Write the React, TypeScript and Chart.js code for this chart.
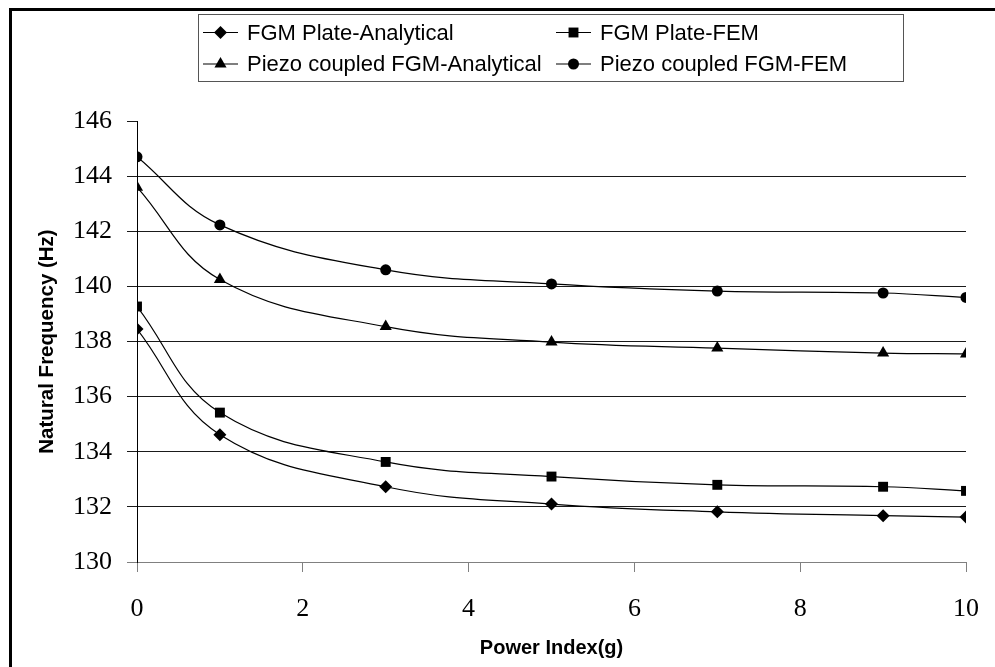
import React, { useEffect, useRef } from "react";
import { Chart, registerables } from "chart.js";

Chart.register(...registerables);

// ---- data ----
const powerIndex = [0, 1, 3, 5, 7, 9, 10];
const fgmPlateAnalytical = [138.45, 134.62, 132.73, 132.1, 131.82, 131.68, 131.63];
const fgmPlateFEM = [139.27, 135.42, 133.63, 133.1, 132.8, 132.73, 132.58];
const piezoAnalytical = [143.6, 140.25, 138.54, 137.98, 137.76, 137.58, 137.55];
const piezoFEM = [144.7, 142.23, 140.6, 140.09, 139.83, 139.76, 139.6];

const seriesNames = [
  "FGM Plate-Analytical",
  "FGM Plate-FEM",
  "Piezo coupled FGM-Analytical",
  "Piezo coupled FGM-FEM",
];
const seriesValues = [fgmPlateAnalytical, fgmPlateFEM, piezoAnalytical, piezoFEM];
const seriesMarkers = ["rectRot", "rect", "triangle", "circle"];
const seriesMarkerRadius = [6.5, 7, 7, 5.5];

const yMin = 130;
const yMax = 146;
const yStep = 2;
const xMin = 0;
const xMax = 10;
const xStep = 2;

const xTitle = "Power Index(g)";
const yTitle = "Natural Frequency (Hz)";

function drawMarker(ctx: CanvasRenderingContext2D, style: string, x: number, y: number, r: number) {
  ctx.beginPath();
  if (style === "rectRot") {
    ctx.moveTo(x - r, y);
    ctx.lineTo(x, y - r);
    ctx.lineTo(x + r, y);
    ctx.lineTo(x, y + r);
    ctx.closePath();
  } else if (style === "rect") {
    const s = Math.SQRT1_2 * r;
    ctx.rect(x - s, y - s, 2 * s, 2 * s);
  } else if (style === "triangle") {
    ctx.moveTo(x, y - r);
    ctx.lineTo(x + r * 0.866, y + r * 0.5);
    ctx.lineTo(x - r * 0.866, y + r * 0.5);
    ctx.closePath();
  } else {
    ctx.arc(x, y, r, 0, Math.PI * 2);
  }
  ctx.fill();
}

const framePlugin = {
  id: "frameLegend",
  beforeDraw(chart: any) {
    const ctx = chart.ctx as CanvasRenderingContext2D;
    ctx.save();
    ctx.fillStyle = "#ffffff";
    ctx.fillRect(0, 0, chart.width, chart.height);
    ctx.restore();
  },
  afterDraw(chart: any) {
    const ctx = chart.ctx as CanvasRenderingContext2D;
    ctx.save();
    // outer frame (top & left)
    ctx.fillStyle = "#000";
    ctx.fillRect(9, 8, chart.width, 3);
    ctx.fillRect(9, 8, 3, chart.height);
    // legend box
    ctx.strokeStyle = "#555";
    ctx.lineWidth = 1;
    ctx.strokeRect(198.5, 14.5, 705, 67);
    const cols = [203, 556];
    const lineLen = 35;
    const rows = [32.5, 64];
    ctx.font = "22px 'Liberation Sans', Arial, sans-serif";
    ctx.textBaseline = "middle";
    ctx.textAlign = "left";
    chart.data.datasets.forEach((ds: any, i: number) => {
      const c = i % 2;
      const x0 = cols[c];
      const y = rows[Math.floor(i / 2)];
      ctx.strokeStyle = "#000";
      ctx.lineWidth = 1.2;
      ctx.beginPath();
      ctx.moveTo(x0, y);
      ctx.lineTo(x0 + lineLen, y);
      ctx.stroke();
      ctx.fillStyle = "#000";
      drawMarker(ctx, seriesMarkers[i], x0 + lineLen / 2, y, seriesMarkerRadius[i]);
      ctx.fillText(ds.label, x0 + lineLen + 9, y + 1);
    });
    ctx.restore();
  },
};

export default function App() {
  const canvasRef = useRef<HTMLCanvasElement | null>(null);

  useEffect(() => {
    document.body.style.margin = "0";
    const canvas = canvasRef.current;
    if (!canvas) return;
    const chart = new Chart(canvas, {
      type: "line",
      data: {
        datasets: seriesNames.map((name, i) => ({
          label: name,
          data: powerIndex.map((x, j) => ({ x, y: seriesValues[i][j] })),
          borderColor: "#000",
          backgroundColor: "#000",
          borderWidth: 1.2,
          pointStyle: seriesMarkers[i] as any,
          pointRadius: seriesMarkerRadius[i],
          pointBackgroundColor: "#000",
          pointBorderColor: "#000",
          pointBorderWidth: 0,
          tension: 0.4,
          fill: false,
        })),
      },
      options: {
        animation: false,
        responsive: false,
        devicePixelRatio: 1,
        layout: { padding: { top: 121, right: 29, left: 0, bottom: 0 } },
        plugins: {
          legend: { display: false },
          tooltip: { enabled: false },
        },
        scales: {
          x: {
            type: "linear",
            min: xMin,
            max: xMax,
            ticks: {
              stepSize: xStep,
              color: "#000",
              padding: 22,
              font: { family: "'Liberation Serif', 'Times New Roman', serif", size: 26 },
              maxRotation: 0,
            },
            grid: {
              drawOnChartArea: false,
              drawTicks: true,
              tickLength: 10,
              color: "#808080",
              tickColor: "#808080",
            },
            border: { color: "#808080", width: 1 },
            title: {
              display: true,
              text: xTitle,
              color: "#000",
              font: { family: "'Liberation Sans', Arial, sans-serif", size: 20, weight: "bold" },
              padding: { top: 0, bottom: 7 },
            },
            afterFit: (scale: any) => {
              scale.height = 105;
              scale.paddingLeft = 0;
              scale.paddingRight = 0;
            },
          },
          y: {
            type: "linear",
            min: yMin,
            max: yMax,
            ticks: {
              stepSize: yStep,
              color: "#000",
              padding: 15,
              font: { family: "'Liberation Serif', 'Times New Roman', serif", size: 26 },
            },
            grid: {
              drawTicks: true,
              tickLength: 10,
              lineWidth: 1,
              color: (c: any) =>
                c.tick && c.tick.value === yMax ? "rgba(0,0,0,0)" : c.tick && c.tick.value === yMin ? "#808080" : "#1a1a1a",
              tickColor: (c: any) => (c.tick && c.tick.value === yMin ? "#808080" : "#1a1a1a"),
            },
            border: { color: "#000", width: 1 },
            title: {
              display: true,
              text: yTitle,
              color: "#000",
              font: { family: "'Liberation Sans', Arial, sans-serif", size: 20.5, weight: "bold" },
              padding: { top: 35, bottom: 0 },
            },
            afterFit: (scale: any) => {
              scale.width = 137;
              scale.paddingTop = 0;
              scale.paddingBottom = 0;
            },
          },
        },
      },
      plugins: [framePlugin],
    });
    return () => chart.destroy();
  }, []);

  return (
    <div style={{ width: 995, height: 667 }}>
      <canvas ref={canvasRef} width={995} height={667} />
    </div>
  );
}
